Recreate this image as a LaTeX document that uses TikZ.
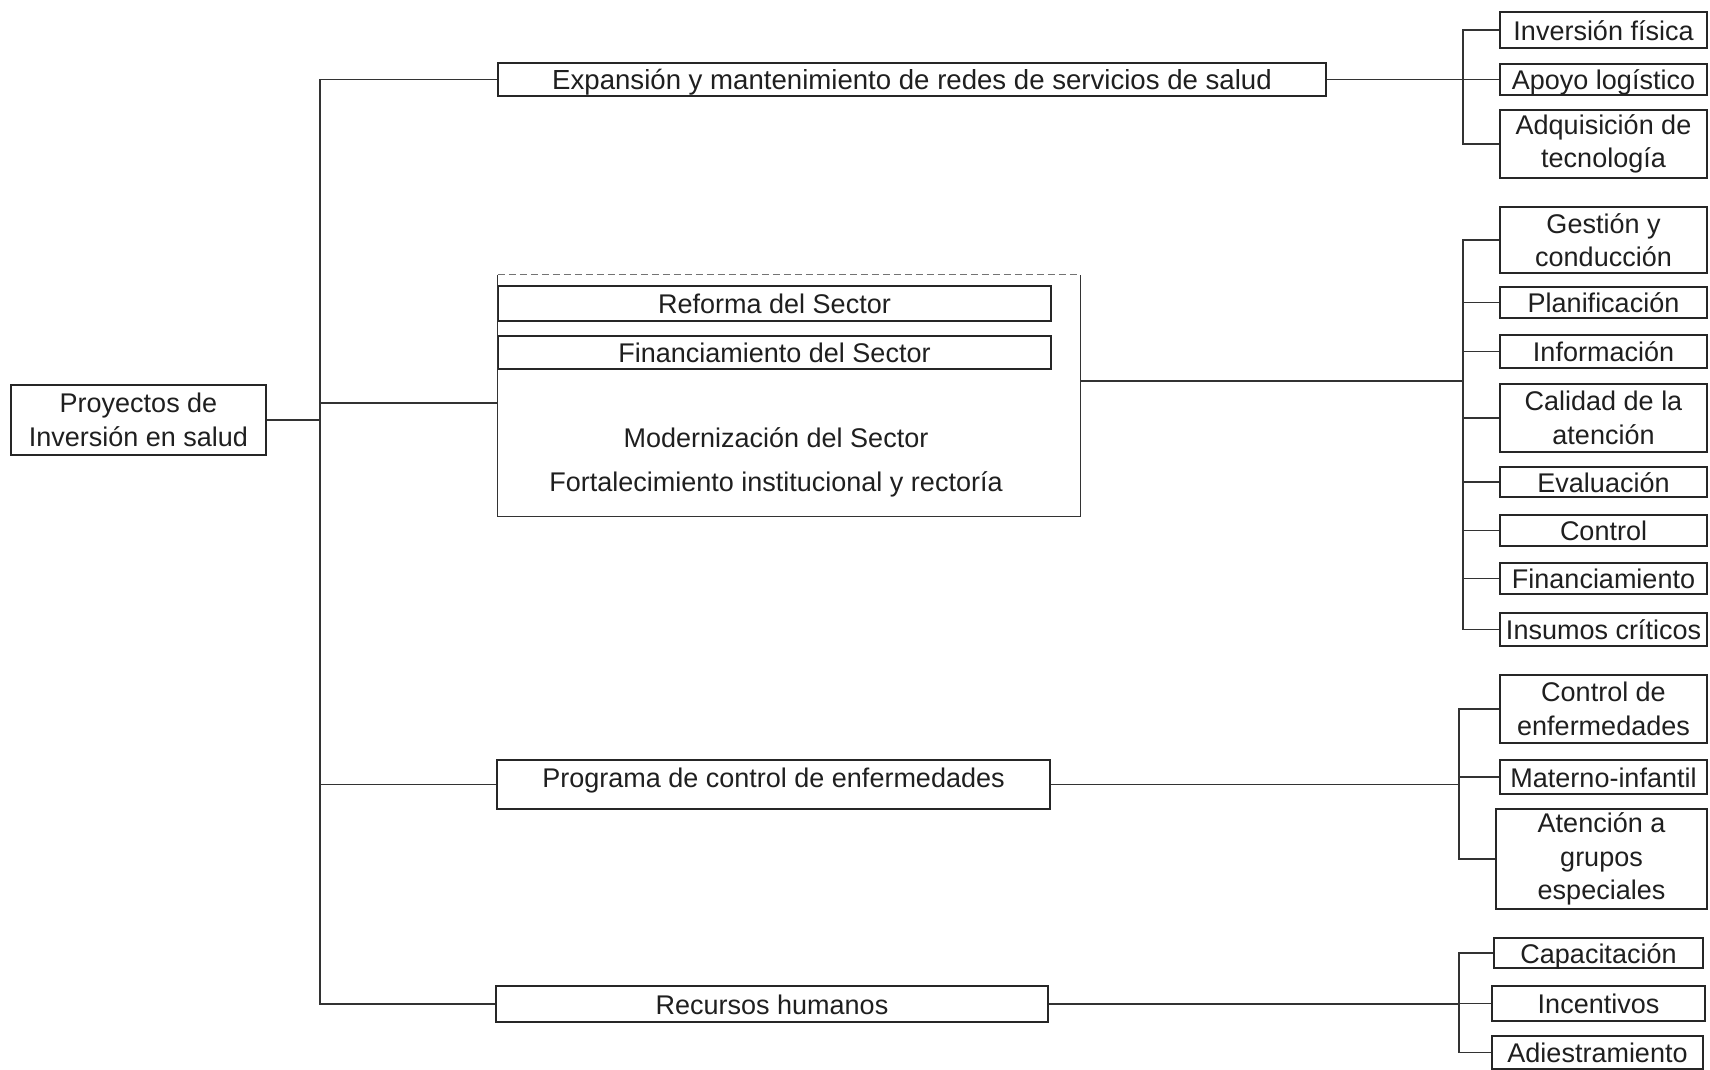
\documentclass[tikz,border=0pt]{standalone}
\usepackage{fontspec}
\setmainfont{Liberation Sans}
\begin{document}
\begin{tikzpicture}[x=1pt,y=-1pt,
  every node/.style={font=\fontsize{27}{33.5}\selectfont, text=black!88},
  box/.style={draw=black!85, line width=1.5pt, inner sep=0pt, align=center},
  oneline/.style={box, text height=23pt, text depth=2.4pt},
  leaf/.style={box, minimum width=207pt},
  leafone/.style={oneline, minimum width=207pt},
  link/.style={draw=black!80, line width=1.2pt},
  faint/.style={draw=black!55, line width=1pt, dash pattern=on 7pt off 4pt},
]
\useasboundingbox[fill=white] (0,0) rectangle (1710,1070);

% root
\node[box, minimum width=255pt, minimum height=70pt] (root) at (138.5,420) {Proyectos de\\Inversión en salud};

% second level
\node[oneline, minimum width=828pt, minimum height=33pt, font=\fontsize{27.6}{33.5}\selectfont] (exp) at (912,79.5)
  {Expansión y mantenimiento de redes de servicios de salud};
\node[minimum width=582pt, minimum height=241pt, inner sep=0pt] (grp) at (789,395.5) {};
\node[oneline, minimum width=553pt, minimum height=35pt] (ref) at (774.5,303.5) {Reforma del Sector};
\node[oneline, minimum width=553pt, minimum height=33pt] (fin) at (774.5,352.5) {Financiamiento del Sector};
\node (mod) at (776,438) {Modernización del Sector};
\node (fort) at (776,484) {Fortalecimiento institucional y rectoría};
\node[box, text height=20pt, text depth=13.6pt, minimum width=553pt, minimum height=49pt] (prog) at (773.5,784.5)
  {Programa de control de enfermedades};
\node[oneline, minimum width=552pt, minimum height=36pt] (rec) at (772,1004) {Recursos humanos};

% frame of the sector group
\draw[link] (grp.north west) -- (grp.south west) -- (grp.south east) -- (grp.north east);
\draw[faint] (grp.north west) -- (grp.north east);

% leaves, group 1
\node[leafone, minimum height=36pt] (inv) at (1603.5,30) {Inversión física};
\node[leafone, minimum height=31pt] (apo) at (1603.5,79.5) {Apoyo logístico};
\node[leaf, minimum height=68pt] (adq) at (1603.5,144) {Adquisición de\\tecnología};
% leaves, group 2
\node[leaf, minimum height=66pt] (ges) at (1603.5,240) {Gestión y\\conducción};
\node[leafone, minimum height=31pt] (pla) at (1603.5,302.5) {Planificación};
\node[leafone, minimum height=33pt] (inf) at (1603.5,351.5) {Información};
\node[leaf, minimum height=68pt] (cal) at (1603.5,418) {Calidad de la\\atención};
\node[leafone, minimum height=30pt] (eva) at (1603.5,482) {Evaluación};
\node[leafone, minimum height=31pt] (con) at (1603.5,530.5) {Control};
\node[leafone, minimum height=31pt] (fia) at (1603.5,578.5) {Financiamiento};
\node[leafone, minimum height=33pt] (ins) at (1603.5,629.5) {Insumos críticos};
% leaves, group 3
\node[leaf, minimum height=68pt] (cen) at (1603.5,709) {Control de\\enfermedades};
\node[leafone, minimum height=34pt] (mat) at (1603.5,777) {Materno-infantil};
\node[box, minimum width=211pt, minimum height=100pt] (gru) at (1601.5,859) {Atención a\\grupos\\especiales};
% leaves, group 4
\node[leafone, minimum width=209pt, minimum height=30pt] (cap) at (1598.5,953) {Capacitación};
\node[leafone, minimum width=213pt, minimum height=35pt] (inc) at (1598.5,1003.5) {Incentivos};
\node[leafone, minimum width=211pt, minimum height=33pt] (adi) at (1597.5,1052.5) {Adiestramiento};

% trunk from the root
\coordinate (trunk) at (320,420);
\coordinate (gin) at (498,403);
\draw[link] (exp.west) -- (exp.west -| trunk) -- (rec.west -| trunk) -- (rec.west);
\draw[link] (root.east) -- (trunk);
\draw[link] (gin -| trunk) -- (gin);
\draw[link] (prog.west -| trunk) -- (prog.west);

% bracket 1
\coordinate (b1) at (1463,79.5);
\draw[link] (exp.east) -- (b1);
\draw[link] (inv.west) -- (b1 |- inv.west) -- (b1 |- adq.west) -- (adq.west);
\draw[link] (b1 |- apo.west) -- (apo.west);

% bracket 2
\coordinate (gout) at (1080,381);
\coordinate (b2) at (1463,381);
\draw[link] (gout) -- (b2);
\draw[link] (ges.west) -- (b2 |- ges.west) -- (b2 |- ins.west) -- (ins.west);
\foreach \n in {pla,inf,cal,eva,con,fia}
  \draw[link] (b2 |- \n.west) -- (\n.west);

% bracket 3
\coordinate (b3) at (1459,784.5);
\draw[link] (prog.east) -- (b3);
\draw[link] (cen.west) -- (b3 |- cen.west) -- (b3 |- gru.west) -- (gru.west);
\draw[link] (b3 |- mat.west) -- (mat.west);

% bracket 4
\coordinate (b4) at (1459,1004);
\draw[link] (rec.east) -- (b4);
\draw[link] (cap.west) -- (b4 |- cap.west) -- (b4 |- adi.west) -- (adi.west);
\draw[link] (b4 |- inc.west) -- (inc.west);
\end{tikzpicture}
\end{document}
